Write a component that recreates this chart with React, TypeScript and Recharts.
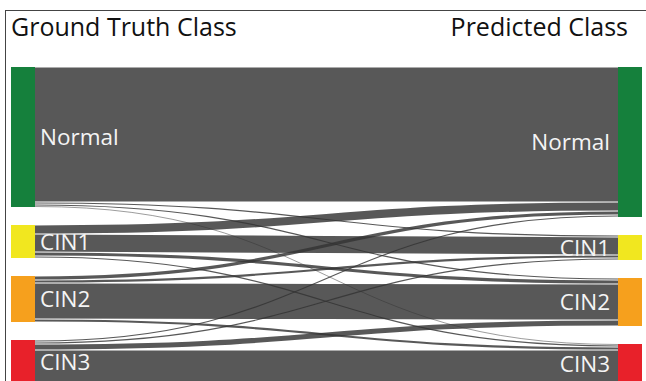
import { Sankey } from "recharts";

const CLASSES = ["Normal", "CIN1", "CIN2", "CIN3"];
const CLASS_COLORS = ["#15803c", "#f1e71f", "#f6a01d", "#e8212a"];
const NORMAL_ROW = [135, 2, 2, 1];
const CIN1_ROW = [9, 18, 4, 2];
const CIN2_ROW = [4, 3, 36, 3];
const CIN3_ROW = [2, 2, 6, 34];
const ROWS = [NORMAL_ROW, CIN1_ROW, CIN2_ROW, CIN3_ROW];

const FONT = "'Open Sans', 'Noto Sans', sans-serif";

const nodes = [
  ...CLASSES.map((name) => ({ name })),
  ...CLASSES.map((name) => ({ name })),
];

const links = ROWS.flatMap((row, source) =>
  row.map((value, target) => ({
    source,
    target: target + CLASSES.length,
    value,
  })),
);

type NodeProps = {
  x: number;
  y: number;
  width: number;
  height: number;
  index: number;
  payload: { name: string; depth?: number };
};

function ClassNode({ x, y, width, height, index, payload }: NodeProps) {
  const isSource = index < CLASSES.length;
  const color = CLASS_COLORS[index % CLASSES.length];
  return (
    <g>
      <rect x={x} y={y} width={width} height={height} fill={color} />
      <text
        x={isSource ? x + width + 5 : x - 8}
        y={y + height / 2}
        dy="0.36em"
        textAnchor={isSource ? "start" : "end"}
        fill="#f4f4f4"
        fontSize={22.5}
        fontFamily={FONT}
      >
        {payload.name}
      </text>
    </g>
  );
}

type LinkProps = {
  sourceX: number;
  targetX: number;
  sourceY: number;
  targetY: number;
  sourceControlX: number;
  targetControlX: number;
  linkWidth: number;
};

function FlowLink({
  sourceX,
  targetX,
  sourceY,
  targetY,
  sourceControlX,
  targetControlX,
  linkWidth,
}: LinkProps) {
  return (
    <path
      d={`M${sourceX},${sourceY}C${sourceControlX},${sourceY} ${targetControlX},${targetY} ${targetX},${targetY}`}
      fill="none"
      stroke="#333"
      strokeOpacity={0.82}
      strokeWidth={Math.max(linkWidth - 0.8, 0.6)}
    />
  );
}

export default function App() {
  return (
    <div
      style={{
        position: "absolute",
        left: 0,
        top: 0,
        width: 646,
        height: 381,
        overflow: "hidden",
        background: "#fff",
      }}
    >
      <div
        style={{
          position: "absolute",
          left: 5,
          top: 10,
          right: 0,
          bottom: 0,
          borderTop: "1px solid #444",
          borderLeft: "1px solid #444",
        }}
      />
      <div
        style={{
          position: "absolute",
          left: 11,
          top: 9,
          fontFamily: FONT,
          fontSize: 25,
          color: "#111",
          lineHeight: "34px",
        }}
      >
        Ground Truth Class
      </div>
      <div
        style={{
          position: "absolute",
          right: 18,
          top: 9,
          fontFamily: FONT,
          fontSize: 25,
          color: "#111",
          lineHeight: "34px",
        }}
      >
        Predicted Class
      </div>
      <div style={{ position: "absolute", left: 0, top: 0 }}>
        <Sankey
          width={646}
          height={384}
          data={{ nodes, links }}
          margin={{ top: 67, left: 11, right: 4, bottom: 0 }}
          nodeWidth={24}
          nodePadding={18}
          iterations={0}
          node={(props: NodeProps) => <ClassNode {...props} />}
          link={(props: LinkProps) => <FlowLink {...props} />}
        />
      </div>
    </div>
  );
}
